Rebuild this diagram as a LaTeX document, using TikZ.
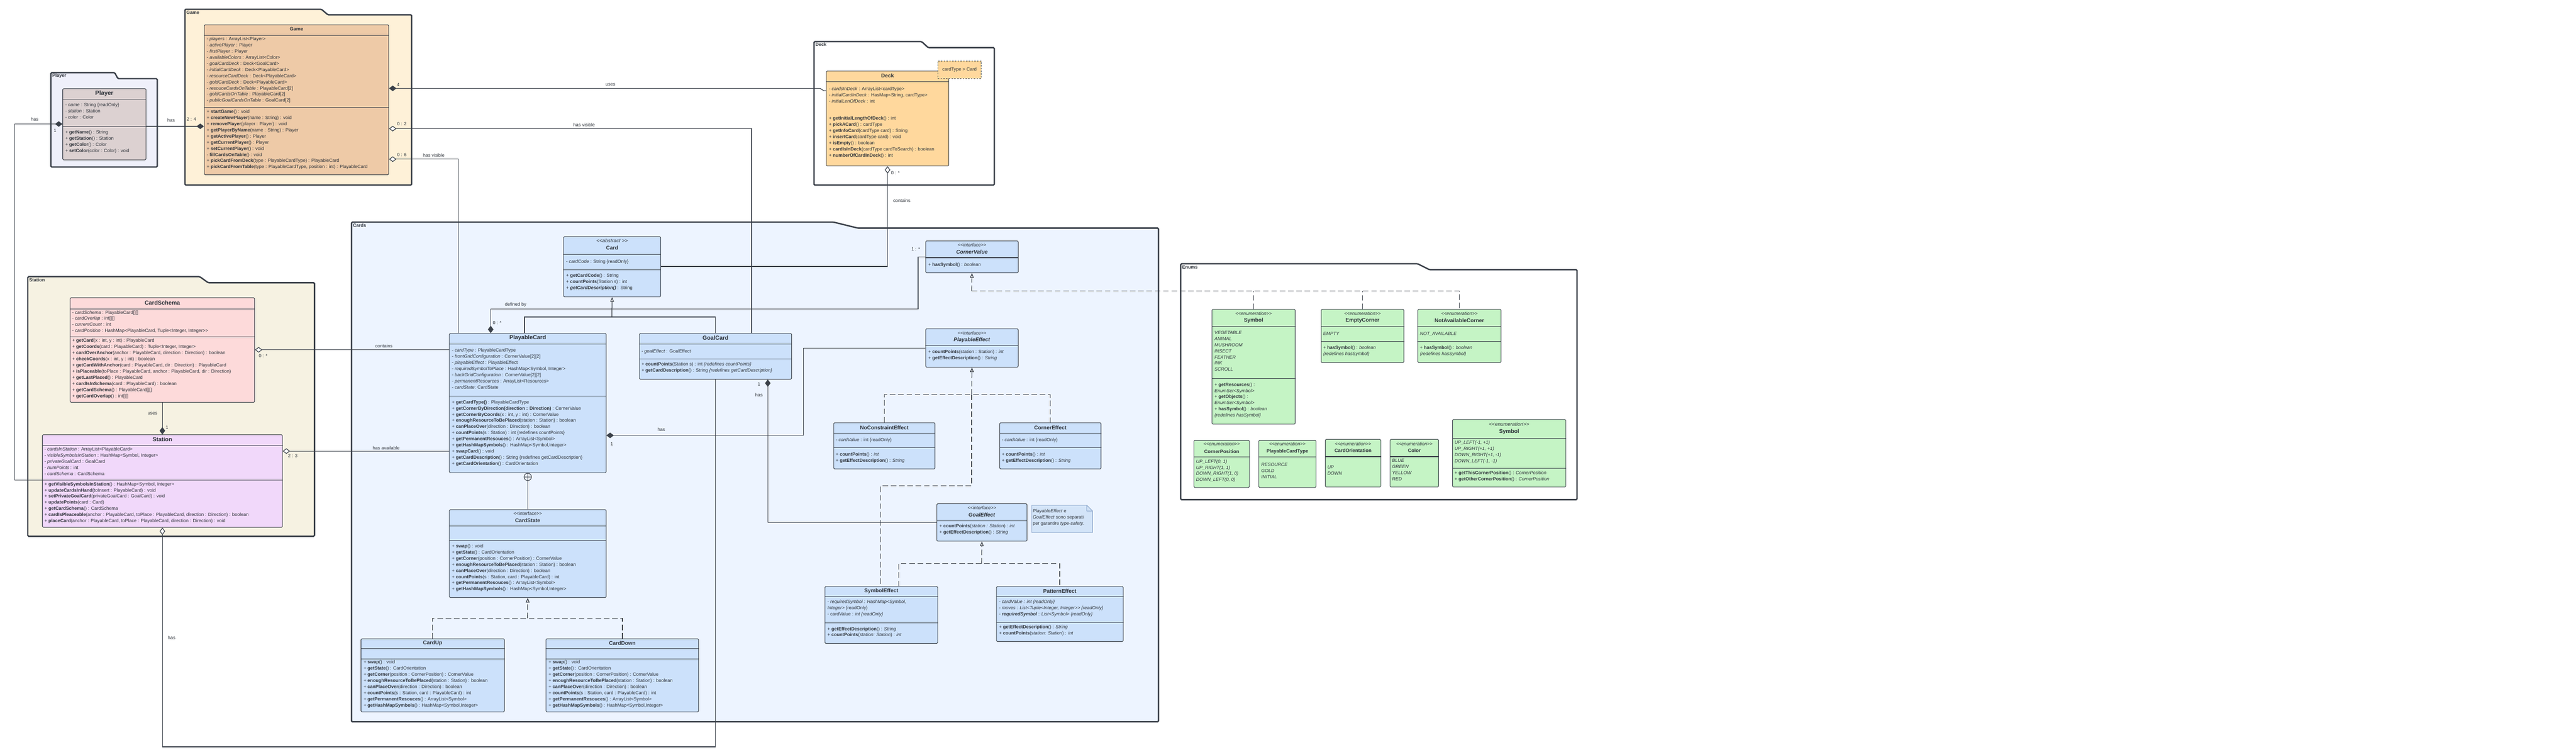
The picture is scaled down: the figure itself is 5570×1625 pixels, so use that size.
\documentclass[tikz,border=0pt]{standalone}
\usepackage{fontspec}
\setmainfont{Liberation Sans}
\usetikzlibrary{arrows.meta}

\definecolor{linec}{HTML}{3A4049}
\definecolor{txtc}{HTML}{2E333A}
\definecolor{gamepkg}{HTML}{FEF1D8}
\definecolor{gamecls}{HTML}{EECAA7}
\definecolor{playerpkg}{HTML}{EFF0FA}
\definecolor{playercls}{HTML}{DCD1D1}
\definecolor{stationpkg}{HTML}{F6F2E2}
\definecolor{schemacls}{HTML}{FDDADA}
\definecolor{stationcls}{HTML}{F1D8FA}
\definecolor{cardspkg}{HTML}{EDF4FF}
\definecolor{bluecls}{HTML}{CCE1FB}
\definecolor{deckcls}{HTML}{FFD89D}
\definecolor{enumcls}{HTML}{C5F4C5}
\definecolor{notecls}{HTML}{D3E4F8}
\definecolor{notebd}{HTML}{7E9BC4}

% double angle brackets without the tex-text guillemet ligature
\newcommand{\lAng}{<\kern0pt<}
\newcommand{\rAng}{>\kern0pt>}
% separator line inside a class box, #2 = distance from the top
\newcommand{\hsep}[2]{\draw[div] ([yshift=-#2pt]#1.north west) -- ([yshift=-#2pt]#1.north east);}

\tikzset{
  pkg/.style={draw=linec, line width=3pt, rounded corners=2pt},
  pkglabel/.style={anchor=west, inner sep=0, text=txtc, font=\fontsize{10}{12}\selectfont\bfseries},
  cls/.style={draw=linec, line width=1.2pt, rounded corners=2pt, anchor=north west, inner sep=0, fill=bluecls},
  div/.style={draw=linec, line width=1.2pt},
  ttl/.style={inner sep=0, text=txtc, font=\fontsize{11.5}{13}\selectfont\bfseries},
  ster/.style={inner sep=0, text=txtc, font=\fontsize{10}{12}\selectfont\itshape},
  body/.style={anchor=north west, align=left, inner sep=0, text=txtc, font=\fontsize{10}{13.3}\selectfont, execute at begin node={\rule{0pt}{9pt}}},
  conn/.style={draw=linec, line width=1.4pt},
  real/.style={conn, dash pattern=on 12pt off 6pt},
  lbl/.style={inner sep=0, text=txtc, font=\fontsize{10}{12}\selectfont},
  comp/.style={arrows={{Diamond[length=16pt,width=12pt]}-}},
  aggr/.style={arrows={{Diamond[open,fill=white,length=16pt,width=12pt]}-}},
  gen/.style={arrows={-{Triangle[open,fill=white,length=10pt,width=8pt]}}},
}

\begin{document}
\begin{tikzpicture}[x=1pt, y=-1pt]
\useasboundingbox (0,0) rectangle (5570,1625);
\fill[white] (0,0) rectangle (5570,1625);

% packages
\draw[pkg, fill=playerpkg] (110,157) -- (248,157) -- (255,170) -- (340,170) -- (340,361) -- (110,361) -- cycle;
\draw[pkg, fill=gamepkg] (400,20) -- (695,20) -- (709,32) -- (890,32) -- (890,400) -- (400,400) -- cycle;
\draw[pkg, fill=white] (1760,90) -- (1993,90) -- (2007,103) -- (2150,103) -- (2150,400) -- (1760,400) -- cycle;
\draw[pkg, fill=stationpkg] (60,598) -- (432,598) -- (450,611) -- (680,611) -- (680,1159) -- (60,1159) -- cycle;
\draw[pkg, fill=cardspkg] (760,480) -- (1802,480) -- (1855,493) -- (2505,493) -- (2505,1560) -- (760,1560) -- cycle;
\draw[pkg, fill=white] (2553,570) -- (3065,570) -- (3091,583) -- (3410,583) -- (3410,1080) -- (2553,1080) -- cycle;
\node[pkglabel] (pk-player) at (113,164) {Player};
\node[pkglabel] (pk-game) at (403,27) {Game};
\node[pkglabel] (pk-deck) at (1763,96) {Deck};
\node[pkglabel] (pk-station) at (63,605) {Station};
\node[pkglabel] (pk-cards) at (763,487) {Cards};
\node[pkglabel] (pk-enums) at (2556,577) {Enums};

% Player
\node[cls, fill=playercls, minimum width=180pt, minimum height=154pt] (player) at (135,191) {};
\hsep{player}{23} \hsep{player}{82}
\node[ttl, font=\fontsize{13}{15}\selectfont\bfseries] (player-t) at ([yshift=-11pt]player.north) {Player};
\node[body] (player-a) at ([xshift=6pt,yshift=-32pt]player.north west) {- \textit{name} : String \{readOnly\}\\- \textit{station} : Station\\- \textit{color} : Color};
\node[body] (player-o) at ([xshift=6pt,yshift=-91pt]player.north west) {+ \textbf{getName}() : String\\+ \textbf{getStation}() : Station\\+ \textbf{getColor}() : Color\\+ \textbf{setColor}(color : Color) : void};

% Game
\node[cls, fill=gamecls, minimum width=399pt, minimum height=324pt] (game) at (441,53) {};
\hsep{game}{23} \hsep{game}{179}
\node[ttl, font=\fontsize{10.5}{12}\selectfont\bfseries] (game-t) at ([yshift=-10pt]game.north) {Game};
\node[body] (game-a) at ([xshift=6pt,yshift=-27pt]game.north west) {- \textit{players} : ArrayList<Player>\\- \textit{activePlayer} : Player\\- \textit{firstPlayer} : Player\\- \textit{availableColors} : ArrayList<Color>\\- \textit{goalCardDeck} : Deck<GoalCard>\\- \textit{initialCardDeck} : Deck<PlayableCard>\\- \textit{resourceCardDeck} : Deck<PlayableCard>\\- \textit{goldCardDeck} : Deck<PlayableCard>\\- \textit{resouceCardsOnTable} : PlayableCard[2]\\- \textit{goldCardsOnTable} : PlayableCard[2]\\- \textit{publicGoalCardsOnTable} : GoalCard[2]};
\node[body] (game-o) at ([xshift=6pt,yshift=-184pt]game.north west) {+ \textbf{startGame}() : void\\+ \textbf{createNewPlayer}(name : String) : void\\+ \textbf{removePlayer}(player : Player) : void\\+ \textbf{getPlayerByName}(name : String) : Player\\+ \textbf{getActivePlayer}() : Player\\+ \textbf{getCurrentPlayer}() : Player\\+ \textbf{setCurrentPlayer}() : void\\- \textbf{fillCardsOnTable}() : void\\+ \textbf{pickCardFromDeck}(type : PlayableCardType) : PlayableCard\\+ \textbf{pickCardFromTable}(type : PlayableCardType, position : int) : PlayableCard};

% Deck
\node[cls, fill=deckcls, minimum width=265pt, minimum height=205pt] (deck) at (1786,153) {};
\hsep{deck}{24}
\node[ttl] (deck-t) at ([yshift=-10pt]deck.north) {Deck};
\node[body] (deck-a) at ([xshift=6pt,yshift=-35pt]deck.north west) {- \textit{cardsInDeck} : ArrayList<cardType>\\- \textit{initialCardInDeck} : HasMap<String, cardType>\\- \textit{initialLenOfDeck} : int};
\node[body] (deck-o) at ([xshift=6pt,yshift=-99pt]deck.north west) {+ \textbf{getInitialLengthOfDeck}() : int\\+ \textbf{pickACard}() : cardType\\+ \textbf{getInfoCard}(cardType card) : String\\+ \textbf{insertCard}(cardType card) : void\\+ \textbf{isEmpty}() : boolean\\+ \textbf{cardIsInDeck}(cardType cardToSearch) : boolean\\+ \textbf{numberOfCardInDeck}() : int};
\node[cls, fill=deckcls, dashed, rounded corners=0, minimum width=94pt, minimum height=38pt] (tmpl) at (2027,131) {};
\node[lbl] (tmpl-t) at (tmpl.center) {cardType > Card};

% Station package
\node[cls, fill=schemacls, minimum width=399pt, minimum height=226pt] (cardschema) at (151,643) {};
\hsep{cardschema}{25} \hsep{cardschema}{85}
\node[ttl, font=\fontsize{12.5}{14}\selectfont\bfseries] (cardschema-t) at ([yshift=-11pt]cardschema.north) {CardSchema};
\node[body] (cardschema-a) at ([xshift=5pt,yshift=-28pt]cardschema.north west) {- \textit{cardSchema} : PlayableCard[][]\\- \textit{cardOverlap} : int[][]\\- \textit{currentCount} : int\\- \textit{cardPosition} : HashMap<PlayableCard, Tuple<Integer, Integer\rAng};
\node[body] (cardschema-o) at ([xshift=5pt,yshift=-89pt]cardschema.north west) {+ \textbf{getCard}(x : int, y : int) : PlayableCard\\+ \textbf{getCoords}(card : PlayableCard) : Tuple<Integer, Integer>\\+ \textbf{cardOverAnchor}(anchor : PlayableCard, direction : Direction) : boolean\\+ \textbf{checkCoords}(x : int, y : int) : boolean\\+ \textbf{getCardWithAnchor}(card : PlayableCard, dir : Direction) : PlayableCard\\+ \textbf{isPlaceable}(toPlace : PlayableCard, anchor : PlayableCard, dir : Direction)\\+ \textbf{getLastPlaced}() : PlayableCard\\+ \textbf{cardIsInSchema}(card : PlayableCard) : boolean\\+ \textbf{getCardSchema}() : PlayableCard[][]\\+ \textbf{getCardOverlap}() : int[][]};

\node[cls, fill=stationcls, minimum width=519pt, minimum height=200pt] (station) at (91,939) {};
\hsep{station}{24} \hsep{station}{99}
\node[ttl, font=\fontsize{12.5}{14}\selectfont\bfseries] (station-t) at ([yshift=-11pt]station.north) {Station};
\node[body] (station-a) at ([xshift=5pt,yshift=-28pt]station.north west) {- \textit{cardsInStation} : ArrayList<PlayableCard>\\- \textit{visibleSymbolsInStation} : HashMap<Symbol, Integer>\\- \textit{privateGoalCard} : GoalCard\\- \textit{numPoints} : int\\- \textit{cardSchema} : CardSchema};
\node[body] (station-o) at ([xshift=5pt,yshift=-103pt]station.north west) {+ \textbf{getVisibleSymbolsInStation}() : HashMap<Symbol, Integer>\\+ \textbf{updateCardsInHand}(toInsert : PlayableCard) : void\\+ \textbf{setPrivateGoalCard}(privateGoalCard : GoalCard) : void\\+ \textbf{updatePoints}(card : Card)\\+ \textbf{getCardSchema}() : CardSchema\\+ \textbf{cardIsPleaceable}(anchor : PlayableCard, toPlace : PlayableCard, direction : Direction) : boolean\\+ \textbf{placeCard}(anchor : PlayableCard, toPlace : PlayableCard, direction : Direction) : void};

% Cards package
\node[cls, minimum width=210pt, minimum height=130pt] (card) at (1218,511) {};
\hsep{card}{39} \hsep{card}{72}
\node[ster, font=\fontsize{11}{13}\selectfont\itshape] (card-s) at ([yshift=-9pt]card.north) {\lAng abstract \rAng};
\node[ttl] (card-t) at ([yshift=-25pt]card.north) {Card};
\node[body] (card-a) at ([xshift=6pt,yshift=-48pt]card.north west) {- \textit{cardCode} : String \{readOnly\}};
\node[body] (card-o) at ([xshift=6pt,yshift=-80pt]card.north west) {+ \textbf{getCardCode}() : String\\+ \textbf{countPoints}(Station s) : int\\+ \textbf{\textit{getCardDescription()}} : String};

\node[cls, minimum width=339pt, minimum height=301pt] (playable) at (971,720) {};
\hsep{playable}{24} \hsep{playable}{136}
\node[ttl, font=\fontsize{12.5}{14}\selectfont\bfseries] (playable-t) at ([yshift=-10pt]playable.north) {PlayableCard};
\node[body] (playable-a) at ([xshift=6pt,yshift=-33pt]playable.north west) {- \textit{cardType} : PlayableCardType\\- \textit{frontGridConfiguration} : CornerValue[2][2]\\- \textit{playableEffect} : PlayableEffect\\- \textit{requiredSymbolToPlace} : HashMap<Symbol, Integer>\\- \textit{backGridConfiguration} : CornerValue[2][2]\\- \textit{permanentResources} : ArrayList<Resources>\\- \textit{cardState}: CardState};
\node[body] (playable-o) at ([xshift=6pt,yshift=-145pt]playable.north west) {+ \textbf{getCardType()} : PlayableCardType\\+ \textbf{getCornerByDirection(direction : Direction)} : CornerValue\\+ \textbf{getCornerByCoords}(x : int, y : int) : CornerValue\\+ \textbf{enoughResourceToBePlaced}(station : Station) : boolean\\+ \textbf{canPlaceOver}(direction : Direction) : boolean\\+ \textbf{countPoints}(s : Station) : int \{redefines countPoints\}\\+ \textbf{getPermanentResouces}() : ArrayList<Symbol>\\+ \textbf{getHashMapSymbols}() : HashMap<Symbol,Integer>\\+ \textbf{swapCard}() : void\\+ \textbf{getCardDescription}() : String \{redefines getCardDescription\}\\+ \textbf{getCardOrientation}() : CardOrientation};
\node[circle, draw=linec, line width=1.2pt, fill=cardspkg, minimum size=16pt, inner sep=0, anchor=north] (nest) at (playable.south) {};
\draw[conn] (nest.north) -- (nest.south) (nest.west) -- (nest.east);

\node[cls, minimum width=329pt, minimum height=99pt] (goalcard) at (1382,720) {};
\hsep{goalcard}{24} \hsep{goalcard}{56}
\node[ttl, font=\fontsize{12.5}{14}\selectfont\bfseries] (goalcard-t) at ([yshift=-10pt]goalcard.north) {GoalCard};
\node[body] (goalcard-a) at ([xshift=5pt,yshift=-33pt]goalcard.north west) {- \textit{goalEffect} : GoalEffect};
\node[body] (goalcard-o) at ([xshift=5pt,yshift=-63pt]goalcard.north west) {+ \textbf{countPoints}(Station s) : int \textit{\{redefines countPoints\}}\\+ \textbf{getCardDescription}() : String \textit{\{redefines getCardDescription\}}};

\node[cls, minimum width=200pt, minimum height=69pt] (cornervalue) at (2001,520) {};
\hsep{cornervalue}{37}
\node[ster] (cornervalue-s) at ([yshift=-10pt]cornervalue.north) {\lAng interface\rAng};
\node[ttl] (cornervalue-t) at ([yshift=-25pt]cornervalue.north) {\textit{CornerValue}};
\node[body] (cornervalue-o) at ([xshift=6pt,yshift=-46pt]cornervalue.north west) {+ \textbf{hasSymbol}() : \textit{boolean}};

\node[cls, minimum width=200pt, minimum height=83pt] (playeffect) at (2001,710) {};
\hsep{playeffect}{37}
\node[ster] (playeffect-s) at ([yshift=-10pt]playeffect.north) {\lAng interface\rAng};
\node[ttl] (playeffect-t) at ([yshift=-25pt]playeffect.north) {\textit{PlayableEffect}};
\node[body] (playeffect-o) at ([xshift=6pt,yshift=-46pt]playeffect.north west) {+ \textbf{countPoints}(station : Station) : \textit{int}\\+ \textbf{getEffectDescription}() : \textit{String}};

\node[cls, minimum width=219pt, minimum height=100pt] (noconstr) at (1802,913) {};
\hsep{noconstr}{23} \hsep{noconstr}{55}
\node[ttl] (noconstr-t) at ([yshift=-11pt]noconstr.north) {NoConstraintEffect};
\node[body] (noconstr-a) at ([xshift=5pt,yshift=-32pt]noconstr.north west) {- \textit{cardValue} : int \{readOnly\}};
\node[body] (noconstr-o) at ([xshift=5pt,yshift=-65pt]noconstr.north west) {+ \textbf{countPoints}() : \textit{int}\\+ \textbf{getEffectDescription}() : \textit{String}};

\node[cls, minimum width=219pt, minimum height=100pt] (cornereffect) at (2161,913) {};
\hsep{cornereffect}{23} \hsep{cornereffect}{55}
\node[ttl] (cornereffect-t) at ([yshift=-11pt]cornereffect.north) {CornerEffect};
\node[body] (cornereffect-a) at ([xshift=5pt,yshift=-32pt]cornereffect.north west) {- \textit{cardValue} : int \{readOnly\}};
\node[body] (cornereffect-o) at ([xshift=5pt,yshift=-65pt]cornereffect.north west) {+ \textbf{countPoints}() : \textit{int}\\+ \textbf{getEffectDescription}() : \textit{String}};

\node[cls, minimum width=339pt, minimum height=190pt] (cardstate) at (971,1101) {};
\hsep{cardstate}{36} \hsep{cardstate}{67}
\node[ster, font=\fontsize{10}{12}\selectfont] (cardstate-s) at ([yshift=-9pt]cardstate.north) {\lAng interface\rAng};
\node[ttl] (cardstate-t) at ([yshift=-24pt]cardstate.north) {CardState};
\node[body] (cardstate-o) at ([xshift=6pt,yshift=-75pt]cardstate.north west) {+ \textbf{swap}() : void\\+ \textbf{getState}() : CardOrientation\\+ \textbf{getCorner}(position : CornerPosition) : CornerValue\\+ \textbf{enoughResourceToBePlaced}(station : Station) : boolean\\+ \textbf{canPlaceOver}(direction : Direction) : boolean\\+ \textbf{countPoints}(s : Station, card : PlayableCard) : int\\+ \textbf{getPermanentResouces}() : ArrayList<Symbol>\\+ \textbf{getHashMapSymbols}() : HashMap<Symbol,Integer>};

\node[cls, minimum width=310pt, minimum height=158pt] (cardup) at (780,1380) {};
\hsep{cardup}{22} \hsep{cardup}{44}
\node[ttl] (cardup-t) at ([yshift=-10pt]cardup.north) {CardUp};
\node[body] (cardup-o) at ([xshift=6pt,yshift=-47pt]cardup.north west) {+ \textbf{swap}() : void\\+ \textbf{getState}() : CardOrientation\\+ \textbf{getCorner}(position : CornerPosition) : CornerValue\\+ \textbf{enoughResourceToBePlaced}(station : Station) : boolean\\+ \textbf{canPlaceOver}(direction : Direction) : boolean\\+ \textbf{countPoints}(s : Station, card : PlayableCard) : int\\+ \textbf{getPermanentResouces}() : ArrayList<Symbol>\\+ \textbf{getHashMapSymbols}() : HashMap<Symbol,Integer>};

\node[cls, minimum width=330pt, minimum height=158pt] (carddown) at (1180,1380) {};
\hsep{carddown}{22} \hsep{carddown}{44}
\node[ttl] (carddown-t) at ([yshift=-10pt]carddown.north) {CardDown};
\node[body] (carddown-o) at ([xshift=6pt,yshift=-47pt]carddown.north west) {+ \textbf{swap}() : void\\+ \textbf{getState}() : CardOrientation\\+ \textbf{getCorner}(position : CornerPosition) : CornerValue\\+ \textbf{enoughResourceToBePlaced}(station : Station) : boolean\\+ \textbf{canPlaceOver}(direction : Direction) : boolean\\+ \textbf{countPoints}(s : Station, card : PlayableCard) : int\\+ \textbf{getPermanentResouces}() : ArrayList<Symbol>\\+ \textbf{getHashMapSymbols}() : HashMap<Symbol,Integer>};

\node[cls, minimum width=195pt, minimum height=81pt] (goaleffect) at (2025,1088) {};
\hsep{goaleffect}{38}
\node[ster] (goaleffect-s) at ([yshift=-10pt]goaleffect.north) {\lAng interface\rAng};
\node[ttl] (goaleffect-t) at ([yshift=-25pt]goaleffect.north) {\textit{GoalEffect}};
\node[body] (goaleffect-o) at ([xshift=6pt,yshift=-45pt]goaleffect.north west) {+ \textbf{countPoints}(\textit{station : Station}) : \textit{int}\\+ \textbf{getEffectDescription}() : \textit{String}};

\draw[draw=notebd, line width=1pt, fill=notecls] (2231,1092) -- (2350,1092) -- (2362,1104) -- (2362,1151) -- (2231,1151) -- cycle;
\draw[draw=notebd, line width=1pt] (2350,1092) -- (2350,1104) -- (2362,1104);
\node[body] (note) at (2233,1100) {\textit{PlayableEffect} e\\\textit{GoalEffect} sono separati\\per garantire \textit{type-safety.}};

\node[cls, minimum width=244pt, minimum height=123pt] (symboleffect) at (1783,1267) {};
\hsep{symboleffect}{22} \hsep{symboleffect}{79}
\node[ttl] (symboleffect-t) at ([yshift=-10pt]symboleffect.north) {SymbolEffect};
\node[body] (symboleffect-a) at ([xshift=6pt,yshift=-30pt]symboleffect.north west) {- \textit{requiredSymbol : HashMap<Symbol,}\\\textit{Integer>} \{readOnly\}\\- cardValue : \textit{int \{readOnly\}}};
\node[body] (symboleffect-o) at ([xshift=6pt,yshift=-88pt]symboleffect.north west) {+ \textbf{getEffectDescription}() : \textit{String}\\+ \textbf{countPoints}(\textit{station: Station}) : \textit{int}};

\node[cls, minimum width=274pt, minimum height=119pt] (patterneffect) at (2154,1267) {};
\hsep{patterneffect}{22} \hsep{patterneffect}{78}
\node[ttl] (patterneffect-t) at ([yshift=-10pt]patterneffect.north) {PatternEffect};
\node[body] (patterneffect-a) at ([xshift=6pt,yshift=-30pt]patterneffect.north west) {- \textit{cardValue : int \{readOnly\}}\\- \textit{moves : List<Tuple<Integer, Integer\rAng\ \{readOnly\}}\\- \textbf{\textit{requiredSymbol}} : \textit{List<Symbol> \{readOnly\}}};
\node[body] (patterneffect-o) at ([xshift=6pt,yshift=-84pt]patterneffect.north west) {+ \textbf{getEffectDescription}() : \textit{String}\\+ \textbf{countPoints}(\textit{station: Station}) : \textit{int}};

% Enums package
\node[cls, fill=enumcls, minimum width=180pt, minimum height=248pt] (enumsymbol) at (2620,668) {};
\hsep{enumsymbol}{38} \hsep{enumsymbol}{150}
\node[ster] (enumsymbol-s) at ([yshift=-10pt]enumsymbol.north) {\lAng enumeration\rAng};
\node[ttl] (enumsymbol-t) at ([yshift=-25pt]enumsymbol.north) {Symbol};
\node[body] (enumsymbol-a) at ([xshift=6pt,yshift=-47pt]enumsymbol.north west) {\textit{VEGETABLE}\\\textit{ANIMAL}\\\textit{MUSHROOM}\\\textit{INSECT}\\\textit{FEATHER}\\\textit{INK}\\\textit{SCROLL}};
\node[body] (enumsymbol-o) at ([xshift=6pt,yshift=-159pt]enumsymbol.north west) {+ \textbf{getResources}() :\\\textit{EnumSet<Symbol>}\\+ \textbf{getObjects}() :\\\textit{EnumSet<Symbol>}\\+ \textbf{hasSymbol}() : \textit{boolean}\\\textit{\{redefines hasSymbol\}}};

\node[cls, fill=enumcls, minimum width=179pt, minimum height=115pt] (emptycorner) at (2856,668) {};
\hsep{emptycorner}{38} \hsep{emptycorner}{70}
\node[ster] (emptycorner-s) at ([yshift=-10pt]emptycorner.north) {\lAng enumeration\rAng};
\node[ttl] (emptycorner-t) at ([yshift=-25pt]emptycorner.north) {EmptyCorner};
\node[body] (emptycorner-a) at ([xshift=5pt,yshift=-47pt]emptycorner.north west) {\textit{EMPTY}};
\node[body] (emptycorner-o) at ([xshift=5pt,yshift=-79pt]emptycorner.north west) {+ \textbf{hasSymbol}() : \textit{boolean}\\\textit{\{redefines hasSymbol\}}};

\node[cls, fill=enumcls, minimum width=180pt, minimum height=115pt] (notavail) at (3065,668) {};
\hsep{notavail}{38} \hsep{notavail}{70}
\node[ster] (notavail-s) at ([yshift=-10pt]notavail.north) {\lAng enumeration\rAng};
\node[ttl] (notavail-t) at ([yshift=-25pt]notavail.north) {NotAvailableCorner};
\node[body] (notavail-a) at ([xshift=5pt,yshift=-47pt]notavail.north west) {\textit{NOT\_AVAILABLE}};
\node[body] (notavail-o) at ([xshift=5pt,yshift=-79pt]notavail.north west) {+ \textbf{hasSymbol}() : \textit{boolean}\\\textit{\{redefines hasSymbol\}}};

\node[cls, fill=enumcls, minimum width=120pt, minimum height=102pt] (cornerpos) at (2581,951) {};
\hsep{cornerpos}{37}
\node[ster] (cornerpos-s) at ([yshift=-9pt]cornerpos.north) {\lAng enumeration\rAng};
\node[ttl, font=\fontsize{10.5}{12}\selectfont\bfseries] (cornerpos-t) at ([yshift=-25pt]cornerpos.north) {CornerPosition};
\node[body] (cornerpos-a) at ([xshift=5pt,yshift=-42pt]cornerpos.north west) {\textit{UP\_LEFT(0, 1)}\\\textit{UP\_RIGHT(1, 1)}\\\textit{DOWN\_RIGHT(1, 0)}\\\textit{DOWN\_LEFT(0, 0)}};

\node[cls, fill=enumcls, minimum width=124pt, minimum height=102pt] (cardtype) at (2721,951) {};
\hsep{cardtype}{37}
\node[ster] (cardtype-s) at ([yshift=-9pt]cardtype.north) {\lAng enumeration\rAng};
\node[ttl, font=\fontsize{10.5}{12}\selectfont\bfseries] (cardtype-t) at ([yshift=-25pt]cardtype.north) {PlayableCardType};
\node[body] (cardtype-a) at ([xshift=6pt,yshift=-49pt]cardtype.north west) {\textit{RESOURCE}\\\textit{GOLD}\\\textit{INITIAL}};

\node[cls, fill=enumcls, minimum width=120pt, minimum height=103pt] (cardorient) at (2865,949) {};
\hsep{cardorient}{38}
\node[ster] (cardorient-s) at ([yshift=-10pt]cardorient.north) {\lAng enumeration\rAng};
\node[ttl, font=\fontsize{10.5}{12}\selectfont\bfseries] (cardorient-t) at ([yshift=-25pt]cardorient.north) {CardOrientation};
\node[body] (cardorient-a) at ([xshift=5pt,yshift=-57pt]cardorient.north west) {\textit{UP}\\\textit{DOWN}};

\node[cls, fill=enumcls, minimum width=105pt, minimum height=103pt] (color) at (3005,949) {};
\hsep{color}{38}
\node[ster] (color-s) at ([yshift=-10pt]color.north) {\lAng enumeration\rAng};
\node[ttl, font=\fontsize{10.5}{12}\selectfont\bfseries] (color-t) at ([yshift=-25pt]color.north) {Color};
\node[body] (color-a) at ([xshift=5pt,yshift=-43pt]color.north west) {\textit{BLUE}\\\textit{GREEN}\\\textit{YELLOW}\\\textit{RED}};

\node[cls, fill=enumcls, minimum width=245pt, minimum height=146pt] (direction) at (3140,906) {};
\hsep{direction}{41} \hsep{direction}{106}
\node[ster, font=\fontsize{11}{13}\selectfont\itshape] (direction-s) at ([yshift=-11pt]direction.north) {\lAng enumeration\rAng};
\node[ttl, font=\fontsize{12}{14}\selectfont\bfseries] (direction-t) at ([yshift=-27pt]direction.north) {Symbol};
\node[body] (direction-a) at ([xshift=5pt,yshift=-46pt]direction.north west) {\textit{UP\_LEFT(-1, +1)}\\\textit{UP\_RIGHT(+1, +1)}\\\textit{DOWN\_RIGHT(+1, -1)}\\\textit{DOWN\_LEFT(-1, -1)}};
\node[body] (direction-o) at ([xshift=5pt,yshift=-112pt]direction.north west) {+ \textbf{getThisCornerPosition}() : \textit{CornerPosition}\\+ \textbf{getOtherCornerPosition}() : \textit{CornerPosition}};

% bend points
\coordinate (defby) at (1985,668);
\coordinate (genbus) at (1323,685);
\coordinate (haseff) at (1737,941);
\coordinate (stbus) at (1140.5,1336);
\coordinate (cvbus) at (2101,629);
\coordinate (pebus) at (2101,853);
\coordinate (pebend) at (2101,1050);
\coordinate (gebus) at (2122.5,1218);

% associations
\draw[conn, comp] ([yshift=-220pt]game.north west) -- ([yshift=-82pt]player.north east);
\draw[conn, comp] ([yshift=-77pt]player.north west) -- ++(-103,0) |- ([yshift=-99pt]station.north west);
\draw[conn, comp] ([yshift=-138pt]game.north east) -- ++(932,0) -- ++(8,5) -- ([yshift=-43pt]deck.north west);
\draw[conn, aggr] ([yshift=-225pt]game.north east) -| ([xshift=-87pt]goalcard.north east);
\draw[conn, aggr] ([yshift=-291pt]game.north east) -| ([xshift=20pt]playable.north west);
\draw[conn, aggr] (deck.south) |- ([yshift=-65pt]card.north east);
\draw[conn, aggr] ([yshift=-113pt]cardschema.north east) -- ([yshift=-36pt]playable.north west);
\draw[conn, aggr] ([yshift=-36pt]station.north east) -- ([yshift=-255pt]playable.north west);
\draw[conn, comp] (station.north) -- (cardschema.south);
\draw[conn, aggr] (station.south) -- ++(0,474) -| (goalcard.south);
\draw[conn, comp] ([xshift=90pt]playable.north west) |- (defby) |- (cornervalue.west);
\draw[conn, comp] ([yshift=-221pt]playable.north east) -- (haseff) |- (playeffect.west);
\draw[conn, comp] ([xshift=-52pt]goalcard.south east) |- (goaleffect.west);
\draw[conn] (nest.south) -- (cardstate.north);

% generalization and realization
\draw[conn] ([xshift=-7pt]playable.north) |- (genbus) -| (goalcard.north);
\draw[conn, gen] (genbus) -- (card.south);
\draw[real, gen] (stbus) -- (cardstate.south);
\draw[real] (cardup.north) |- (stbus) -| (carddown.north);
\draw[real, gen] (cvbus) -- (cornervalue.south);
\draw[real] (cvbus) -| (notavail.north);
\draw[real] (enumsymbol.north) -- (enumsymbol.north |- cvbus);
\draw[real] (emptycorner.north) -- (emptycorner.north |- cvbus);
\draw[real, gen] (pebus) -- (playeffect.south);
\draw[real] (noconstr.north) |- (pebus) -| (cornereffect.north);
\draw[real] (pebus) -- (pebend) -| ([xshift=121pt]symboleffect.north west);
\draw[real, gen] (gebus) -- (goaleffect.south);
\draw[real] ([xshift=160pt]symboleffect.north west) |- (gebus) -| (patterneffect.north);

% connector labels
\node[lbl] (lb-pg) at (370,260) {has};
\node[lbl] (lb-pg-m) at (414,258) {2 : 4};
\node[lbl] (lb-ps) at (75,258) {has};
\node[lbl] (lb-ps-m) at (119,282) {1};
\node[lbl] (lb-gd-m) at (861,183) {4};
\node[lbl] (lb-gd) at (1320,183) {uses};
\node[lbl] (lb-gg-m) at (869,268) {0 : 2};
\node[lbl] (lb-gg) at (1263,270) {has visible};
\node[lbl] (lb-gp-m) at (869,335) {0 : 6};
\node[lbl] (lb-gp) at (938,336) {has visible};
\node[lbl] (lb-dc-m) at (1936,374) {0 : *};
\node[lbl] (lb-dc) at (1950,434) {contains};
\node[lbl] (lb-cp-m) at (569,769) {0 : *};
\node[lbl] (lb-cp) at (830,748) {contains};
\node[lbl] (lb-sp-m) at (633,985) {2 : 3};
\node[lbl] (lb-sp) at (835,968) {has available};
\node[lbl] (lb-cs) at (330,894) {uses};
\node[lbl] (lb-cs-m) at (361,924) {1};
\node[lbl] (lb-sg) at (371,1378) {has};
\node[lbl] (lb-pc-m) at (1075,698) {0 : *};
\node[lbl] (lb-pc) at (1115,659) {defined by};
\node[lbl] (lb-pc-n) at (1980,539) {1 : *};
\node[lbl] (lb-pe-m) at (1323,960) {1};
\node[lbl] (lb-pe) at (1430,928) {has};
\node[lbl] (lb-ge-m) at (1641,830) {1};
\node[lbl] (lb-ge) at (1641,854) {has};
\end{tikzpicture}
\end{document}
